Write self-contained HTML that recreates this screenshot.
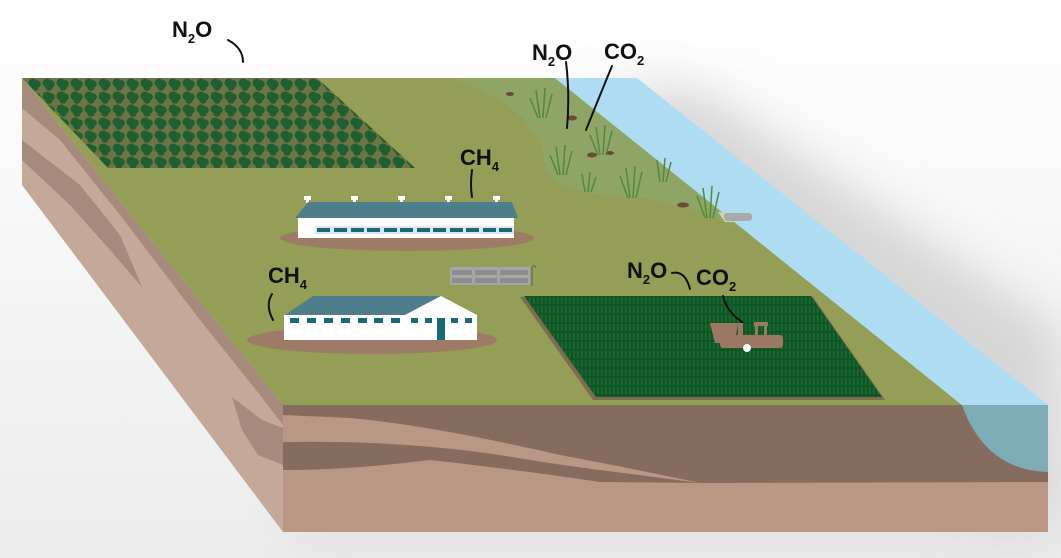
<!DOCTYPE html>
<html><head><meta charset="utf-8"><style>
html,body{margin:0;padding:0;background:#fff;}
svg{display:block}
text{font-family:"Liberation Sans",sans-serif;font-weight:bold;fill:#111}
</style></head><body>
<svg width="1061" height="558" viewBox="0 0 1061 558" xmlns="http://www.w3.org/2000/svg">
<defs>
<linearGradient id="bg" x1="0" y1="0" x2="0" y2="1"><stop offset="0" stop-color="#ffffff"/><stop offset="1" stop-color="#ececec"/></linearGradient>
<filter id="blur" x="-20%" y="-20%" width="140%" height="140%"><feGaussianBlur stdDeviation="25"/></filter>
<pattern id="orch" width="14" height="13" patternUnits="userSpaceOnUse">
<rect width="14" height="13" fill="#6f7445"/>
<circle cx="5" cy="5" r="4.5" fill="#1f5e2f"/><circle cx="9" cy="6" r="3.8" fill="#1f5e2f"/><circle cx="7" cy="9" r="3.7" fill="#1f5e2f"/>
</pattern>
<pattern id="crop" width="4" height="9" patternUnits="userSpaceOnUse">
<rect width="4" height="9" fill="#0f5624"/><rect x="1" width="1.5" height="7" fill="#1c6d33"/>
</pattern>
</defs>
<rect width="1061" height="558" fill="url(#bg)"/>
<polygon points="600,90 700,90 1061,330 1061,520 980,520" fill="#d6d6d6" filter="url(#blur)"/>
<polygon points="290,470 1050,470 1050,545 290,545" fill="#dcdcdc" filter="url(#blur)" opacity="0.7"/>
<!-- left face -->
<polygon points="22,78 283,405 283,532 22,185" fill="#c4a898"/>
<polygon points="22,78 283,405 283,425 260,395 200,320 120,215 60,140 22,108" fill="#a68a7c"/>
<polygon points="22,140 80,185 120,235 142,287 110,250 70,205 22,160" fill="#a68a7c"/>
<polygon points="232,397 262,420 283,428 283,465 258,455 242,430" fill="#a68a7c"/>
<!-- front face -->
<rect x="283" y="405" width="765" height="127" fill="#b99784"/>
<path d="M283,405 H1048 V482 L700,483 Q640,470 560,455 Q430,425 350,418 L283,415 Z" fill="#866c5e"/>
<path d="M283,442 Q400,440 500,455 Q560,465 600,470 L700,483 L600,482 Q520,470 430,460 Q350,470 283,470 Z" fill="#866c5e"/>
<path d="M962,405 Q985,470 1048,472 V405 Z" fill="#7eacb6"/>
<!-- top surface -->
<polygon points="22,78 555,78 962,405 283,405" fill="#949e57"/>
<path d="M450,78 L555,78 L752,236 Q700,205 640,198 Q560,195 545,170 Q545,110 450,78 Z" fill="#8fa566"/>
<!-- river -->
<polygon points="555,78 637,78 1048,405 962,405" fill="#addcf3"/>
<!-- orchard -->
<polygon points="22,78 317,78 415,168 108,168" fill="url(#orch)"/>
<!-- wetland plants -->
<g stroke="#4f8a3e" stroke-width="1.5" fill="none">
<path d="M540,118 l-4,-28 M543,118 l2,-30 M546,118 l6,-24 M538,118 l-8,-20"/>
<path d="M560,175 l-4,-28 M563,175 l2,-30 M566,175 l6,-24 M558,175 l-8,-20"/>
<path d="M600,155 l-4,-28 M603,155 l2,-30 M606,155 l6,-24 M598,155 l-8,-20"/>
<path d="M630,198 l-4,-30 M633,198 l2,-32 M636,198 l6,-26 M628,198 l-8,-22"/>
<path d="M660,182 l-3,-22 M663,182 l2,-24 M666,182 l5,-20"/>
<path d="M707,218 l-4,-30 M710,218 l2,-32 M713,218 l6,-26 M705,218 l-8,-22"/>
<path d="M585,192 l-3,-18 M588,192 l2,-20 M591,192 l5,-15"/>
</g>
<ellipse cx="510" cy="94" rx="4" ry="2" fill="#6b4a36"/><ellipse cx="572" cy="118" rx="5" ry="2.5" fill="#6b4a36"/>
<ellipse cx="592" cy="155" rx="5" ry="2.5" fill="#6b4a36"/><ellipse cx="610" cy="153" rx="4" ry="2" fill="#6b4a36"/>
<ellipse cx="683" cy="205" rx="6" ry="2.5" fill="#6b4a36"/>
<polygon points="718,212 730,213 738,222 725,222" fill="#d8cfae"/>
<rect x="724" y="213" width="28" height="8" rx="3" fill="#a9a9a9"/>
<!-- barn 1 -->
<ellipse cx="407" cy="238" rx="127" ry="13" fill="#9d7b67"/>
<g fill="#fff"><rect x="304" y="196" width="7" height="4"/><rect x="306" y="199" width="3" height="4"/>
<rect x="351" y="196" width="7" height="4"/><rect x="353" y="199" width="3" height="4"/>
<rect x="398" y="196" width="7" height="4"/><rect x="400" y="199" width="3" height="4"/>
<rect x="445" y="196" width="7" height="4"/><rect x="447" y="199" width="3" height="4"/>
<rect x="493" y="196" width="7" height="4"/><rect x="495" y="199" width="3" height="4"/></g>
<polygon points="308,202 512,202 518,218 295,218" fill="#4e7d8b"/>
<rect x="298" y="218" width="216" height="20" fill="#fff"/>
<rect x="315" y="226" width="199" height="8" fill="#dde6ea"/>
<g fill="#176b78">
<rect x="317" y="228" width="13" height="4"/><rect x="334" y="228" width="13" height="4"/><rect x="351" y="228" width="13" height="4"/><rect x="367" y="228" width="13" height="4"/><rect x="384" y="228" width="13" height="4"/><rect x="400" y="228" width="13" height="4"/><rect x="417" y="228" width="13" height="4"/><rect x="433" y="228" width="13" height="4"/><rect x="450" y="228" width="13" height="4"/><rect x="466" y="228" width="13" height="4"/><rect x="483" y="228" width="13" height="4"/><rect x="499" y="228" width="13" height="4"/></g>
<!-- barn 2 -->
<ellipse cx="372" cy="340" rx="125" ry="14" fill="#9d7b67"/>
<polygon points="285,315 313,296 441,296 405,315" fill="#4e7d8b"/>
<rect x="284" y="315" width="122" height="25" fill="#fff"/>
<polygon points="405,315 441,296 477,315 477,340 405,340" fill="#fff"/>
<g fill="#176b78">
<rect x="290" y="318" width="9" height="5"/><rect x="307" y="318" width="9" height="5"/><rect x="324" y="318" width="9" height="5"/><rect x="341" y="318" width="9" height="5"/><rect x="358" y="318" width="9" height="5"/><rect x="374" y="318" width="9" height="5"/><rect x="391" y="318" width="9" height="5"/><rect x="411" y="318" width="7" height="5"/><rect x="425" y="318" width="7" height="5"/><rect x="451" y="318" width="7" height="5"/><rect x="465" y="318" width="7" height="5"/>
<rect x="437" y="318" width="8" height="22"/></g>
<!-- slabs -->
<rect x="450" y="267" width="80" height="18" fill="#a6a6a6"/>
<g fill="#8d8d8d"><rect x="452" y="270" width="20" height="5"/><rect x="475" y="270" width="22" height="5"/><rect x="500" y="270" width="28" height="5"/><rect x="452" y="278" width="20" height="5"/><rect x="475" y="278" width="22" height="5"/><rect x="500" y="278" width="28" height="5"/></g>
<path d="M532,286 V268 q2,-5 4,0" stroke="#666" stroke-width="1.2" fill="none"/>
<!-- crop field -->
<polygon points="520,297 813,297 885,400 593,400" fill="#7f6a52"/>
<polygon points="524,296 811,296 882,397 596,397" fill="url(#crop)"/>
<!-- tractor -->
<polygon points="710,323 738,323 735,343 715,343" fill="#9c7763"/>
<rect x="738" y="323" width="5" height="12" fill="#9c7763"/>
<rect x="754" y="322" width="14" height="4" fill="#9c7763"/>
<rect x="755" y="326" width="3" height="12" fill="#9c7763"/><rect x="764" y="326" width="3" height="12" fill="#9c7763"/>
<rect x="720" y="335" width="63" height="13" rx="3" fill="#9c7763"/>
<circle cx="747" cy="348" r="4" fill="#fff"/>
<!-- labels & lines -->
<g stroke="#111" stroke-width="2" fill="none" stroke-linecap="round">
<path d="M228,40 Q243,48 243,62"/>
<path d="M566,62 Q570,95 567,128"/>
<path d="M612,66 Q598,100 586,130"/>
<path d="M472,170 Q470,185 472,197"/>
<path d="M272,294 Q265,305 273,320"/>
<path d="M672,273 Q685,270 690,289"/>
<path d="M723,296 Q727,312 742,322"/>
</g>
<text x="172" y="37" font-size="22">N<tspan font-size="13" dy="6">2</tspan><tspan dy="-6">O</tspan></text>
<text x="532" y="60" font-size="22">N<tspan font-size="13" dy="6">2</tspan><tspan dy="-6">O</tspan></text>
<text x="604" y="59" font-size="22">CO<tspan font-size="13" dy="6">2</tspan></text>
<text x="460" y="165" font-size="22">CH<tspan font-size="13" dy="6">4</tspan></text>
<text x="268" y="283" font-size="22">CH<tspan font-size="13" dy="6">4</tspan></text>
<text x="627" y="278" font-size="22">N<tspan font-size="13" dy="6">2</tspan><tspan dy="-6">O</tspan></text>
<text x="696" y="285" font-size="22">CO<tspan font-size="13" dy="6">2</tspan></text>
</svg>
</body></html>
